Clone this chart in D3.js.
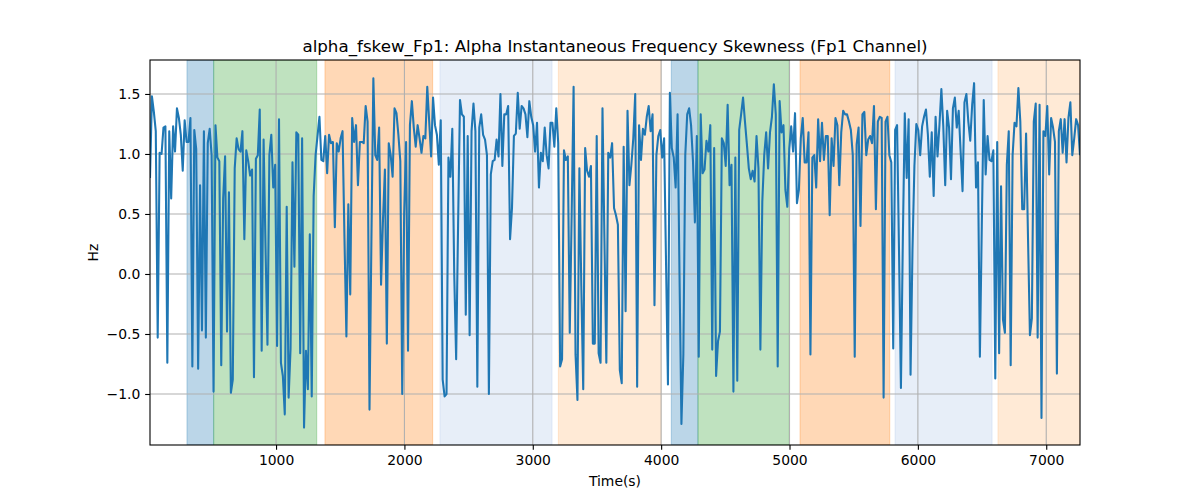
<!DOCTYPE html>
<html>
<head>
<meta charset="utf-8">
<script src="https://cdn.jsdelivr.net/npm/d3@7"></script>
<style>
  html, body { margin: 0; padding: 0; background: #ffffff; }
  svg { display: block; font-family: "DejaVu Sans", sans-serif; }
</style>
</head>
<body>
<svg id="chart" width="1200" height="500"></svg>
<script>
// ---- data ----
const titleText = "alpha_fskew_Fp1: Alpha Instantaneous Frequency Skewness (Fp1 Channel)";
const xLabel = "Time(s)";
const yLabel = "Hz";
const sampleStart = 18;   // time of first sample (s)
const sampleStep = 15;    // seconds between samples
const xTicks = [1000, 2000, 3000, 4000, 5000, 6000, 7000];
const yTicks = [-1.0, -0.5, 0.0, 0.5, 1.0, 1.5];
const yDomain = [-1.425, 1.783];

const values = [
  // 0 - 1000 s
  0.80, 1.48, 1.35, 1.19, -0.53, 1.01, 1.00, 1.22, 1.23, -0.74, 1.19, 0.63, 1.23, 1.02, 1.38, 1.30, 1.16, 0.86, 1.28, 1.10,
  1.10, 1.30, -0.77, 1.20, 1.04, -0.79, 0.74, -0.47, 1.19, -0.53, 1.09, 1.21, 0.99, -0.98, 1.24, 0.97, 0.94, -0.76, 0.63, 0.98,
  -0.48, 0.68, -0.99, -0.88, 0.88, 1.13, 1.04, 1.02, 1.19, 0.29, 1.03, 0.94, 0.82, 0.87, -0.86, 0.96, 0.99, 1.37, -0.64,
  // ~ 900 - 1800 s
  1.12, 0.22, -0.59, 0.99, 1.16, 0.72, 0.91, -0.60, 1.29, -0.74, -0.85, -1.17, 0.56, -1.03, -0.62, 0.93, 0.06, 1.18, 1.16, -0.66,
  1.13, -1.28, -0.64, -0.96, 0.33, -1.02, 0.65, 0.99, 1.15, 1.31, 0.95, 0.94, 1.15, 0.84, 1.16, 1.09, 1.10, 0.39, 1.09, 1.02,
  1.13, 1.19, 0.30, -0.52, 0.58, -0.17, 1.30, 1.10, 1.24, 0.74, 1.10, 1.10, 1.09, 1.40, 1.27, -1.13, 0.30, 1.63, 0.99, 0.95, 1.22,
  // ~ 1800 - 2700 s
  -0.09, 0.45, 0.87, -0.58, 1.09, 0.99, 0.81, 1.38, 1.34, 1.16, 0.94, -1.00, 0.50, 1.10, -0.64, 1.24, 1.44, 1.22, 1.06, 1.24,
  1.13, 1.01, 1.15, 1.13, 1.56, 1.27, 0.98, 1.47, 1.24, 1.16, 0.91, 1.28, -0.88, -1.02, -1.00, 0.97, 0.81, 1.21, 0.00, -0.71,
  0.40, 1.45, 1.33, 1.31, -0.34, 1.15, -0.51, 1.19, 1.42, 1.19, -0.94, 1.22, 1.33, 1.16, 1.12, 0.99, -1.00, 0.83, 0.94,
  // ~ 2700 - 3600 s
  0.95, 1.12, 0.98, 1.50, 0.90, 1.33, 1.33, 1.40, 0.29, 0.55, 1.15, 1.17, 1.51, 1.21, 1.40, 1.38, 1.33, 1.14, 1.44, 1.31,
  1.24, 1.02, 1.26, 0.72, 1.01, 0.94, 1.22, 0.99, 0.88, 1.26, 1.26, 1.06, 1.38, 1.09, -0.77, -0.71, 1.03, 0.95, 0.98, -0.49,
  0.50, 1.56, -0.67, -1.05, 0.88, -0.10, -0.96, 1.05, 0.86, 0.81, 0.90, -0.58, -0.58, 1.15, -0.66, -0.74, 1.38, 0.30, -0.74, 1.01,
  // ~ 3600 - 4500 s
  0.97, 1.09, 0.55, 0.49, 0.41, -0.80, -0.91, 1.06, -0.31, 1.36, 0.74, 0.91, 1.13, 1.50, -0.94, 1.24, 0.95, 1.21, 1.16, 1.31,
  1.40, 1.19, 1.33, -0.26, 0.99, 1.15, 1.20, 0.97, 1.13, 0.10, -0.92, 1.51, 1.05, 0.97, 0.72, 1.33, 0.00, -1.25, -0.67, 0.99,
  1.33, 1.38, 1.24, 0.94, 0.43, 1.15, -0.69, 1.33, 0.84, 0.87, 1.11, 1.02, 1.24, -0.63, 1.05, -0.85, -0.56, -0.48, 1.13, 1.09,
  // ~ 4500 - 5400 s
  0.90, 1.41, 0.74, 0.91, -0.98, 0.97, -0.89, 1.20, 1.33, 1.47, 1.27, 1.08, 0.88, 0.79, 0.86, 0.77, 1.15, 0.88, -0.63, 0.60,
  0.99, 1.18, 0.88, 1.18, 1.31, 1.58, 1.33, -0.77, 1.44, 1.18, 1.24, 0.70, 0.56, 1.04, 1.23, 1.02, 1.34, 0.59, 0.70, 1.13,
  1.30, 0.93, 0.93, 1.18, -0.67, 0.97, 0.99, 0.72, 1.29, 0.94, 1.26, 0.95, 1.15, 1.15, 0.49, 1.13, 0.90, 1.30, 1.24, 0.74,
  // ~ 5400 - 6300 s
  1.18, 1.36, 1.33, 1.33, 1.27, 1.20, 0.99, -0.69, 1.08, 1.22, 0.40, 1.33, 1.35, 0.99, 1.12, 1.15, 1.09, 1.40, 0.54, 1.27,
  1.31, 1.30, -1.03, 1.27, 1.31, 0.99, 0.93, -0.62, 1.20, 1.24, 0.20, -0.95, 0.30, 1.34, 0.80, 1.29, -0.84, 0.20, 0.90, 1.25,
  1.20, 0.99, 1.23, 1.31, 1.37, 1.16, 0.81, 1.18, 0.65, 1.31, 0.98, 1.24, 1.54, 1.23, 0.74, 1.36, 1.22, 0.79, 1.38, 1.47,
  // ~ 6300 - 7263 s
  1.22, 1.36, 1.02, 0.69, 1.43, 1.50, 1.27, 1.11, 1.41, 1.59, 0.72, 0.93, -0.69, 0.40, 1.45, 0.83, 1.15, 0.95, 0.94, 1.03,
  -0.87, 1.10, -0.66, 0.73, -0.38, -0.49, 0.91, 1.19, -0.76, 0.99, 1.26, 1.23, 1.55, 1.27, 0.54, 0.54, 1.17, 0.30, -0.51, -0.37,
  1.27, 1.42, -0.53, 1.41, -1.20, 1.19, 1.15, 1.40, 0.83, 1.30, 1.22, 1.10, -0.83, 1.19, 1.29, 1.01, 1.29, 0.93, 1.30, 1.43,
  0.99, 1.13, 1.29, 1.24, 0.99
];

// shaded intervals (seconds)
const bandStarts = [306, 514, 1381, 2277, 3199, 4079, 4287, 5082, 5822, 6624];
const bandEnds   = [514, 1317, 2220, 3150, 3999, 4287, 4998, 5781, 6578, 7263];
const bandColors = ["#1f77b4", "#2ca02c", "#ff7f0e", "#aec7e8", "#ffbb78",
                    "#1f77b4", "#2ca02c", "#ff7f0e", "#aec7e8", "#ffbb78"];

// ---- layout ----
const margin = { left: 150, right: 120, top: 60, bottom: 55 };
const W = 1200, H = 500;
const plotW = W - margin.left - margin.right;  // 930
const plotH = H - margin.top - margin.bottom;  // 385

const series = values.map((v, i) => ({ t: sampleStart + i * sampleStep, v: v }));
const xMin = series[0].t, xMax = series[series.length - 1].t;

const x = d3.scaleLinear().domain([xMin, xMax]).range([margin.left, margin.left + plotW]);
const y = d3.scaleLinear().domain(yDomain).range([margin.top + plotH, margin.top]);

const svg = d3.select("#chart");
svg.append("rect").attr("width", W).attr("height", H).attr("fill", "#fff");

const clipId = "plotclip";
svg.append("defs").append("clipPath").attr("id", clipId)
  .append("rect").attr("x", margin.left).attr("y", margin.top).attr("width", plotW).attr("height", plotH);

// bands
const bands = bandStarts.map((s, i) => ({ s: s, e: bandEnds[i], c: bandColors[i] }));
svg.append("g").attr("clip-path", `url(#${clipId})`)
  .selectAll("rect").data(bands).join("rect")
  .attr("x", d => x(d.s))
  .attr("width", d => x(d.e) - x(d.s))
  .attr("y", margin.top)
  .attr("height", plotH)
  .attr("fill", d => d.c)
  .attr("fill-opacity", 0.3)
  .attr("stroke", d => d.c)
  .attr("stroke-opacity", 0.3)
  .attr("stroke-width", 1);

// grid
const grid = svg.append("g");
grid.selectAll("line.gx").data(xTicks).join("line")
  .attr("x1", d => x(d)).attr("x2", d => x(d))
  .attr("y1", margin.top).attr("y2", margin.top + plotH)
  .attr("stroke", "#b0b0b0").attr("stroke-width", 1.1);
grid.selectAll("line.gy").data(yTicks).join("line")
  .attr("y1", d => y(d)).attr("y2", d => y(d))
  .attr("x1", margin.left).attr("x2", margin.left + plotW)
  .attr("stroke", "#b0b0b0").attr("stroke-width", 1.1);

// line
const line = d3.line().x(d => x(d.t)).y(d => y(d.v));
svg.append("path").datum(series)
  .attr("clip-path", `url(#${clipId})`)
  .attr("d", line)
  .attr("fill", "none")
  .attr("stroke", "#1f77b4")
  .attr("stroke-width", 2.08)
  .attr("stroke-linejoin", "round");

// axes
const fmtY = d => d3.format(".1f")(d).replace("-", "\u2212");
const xAxis = d3.axisBottom(x).tickValues(xTicks).tickFormat(d3.format("d")).tickSize(4.86).tickPadding(4.86);
const yAxis = d3.axisLeft(y).tickValues(yTicks).tickFormat(fmtY).tickSize(4.86).tickPadding(4.86);

const gx = svg.append("g").attr("transform", `translate(0,${margin.top + plotH})`).call(xAxis);
const gy = svg.append("g").attr("transform", `translate(${margin.left},0)`).call(yAxis);
[gx, gy].forEach(g => {
  g.select(".domain").remove();
  g.selectAll(".tick line").attr("stroke", "#000").attr("stroke-width", 1.1);
  g.selectAll(".tick text").attr("fill", "#000").style("font-size", "13.9px")
    .style("font-family", "'DejaVu Sans', sans-serif");
});

// spines
svg.append("rect")
  .attr("x", margin.left).attr("y", margin.top)
  .attr("width", plotW).attr("height", plotH)
  .attr("fill", "none").attr("stroke", "#000").attr("stroke-width", 1.1);

// title & labels
svg.append("text")
  .attr("x", margin.left + plotW / 2).attr("y", 51.5)
  .attr("text-anchor", "middle")
  .style("font-size", "16.7px").attr("fill", "#000")
  .text(titleText);

svg.append("text")
  .attr("x", margin.left + plotW / 2).attr("y", 486)
  .attr("text-anchor", "middle")
  .style("font-size", "13.9px").attr("fill", "#000")
  .text(xLabel);

svg.append("text")
  .attr("transform", `translate(98,${margin.top + plotH / 2}) rotate(-90)`)
  .attr("text-anchor", "middle")
  .style("font-size", "13.9px").attr("fill", "#000")
  .text(yLabel);
</script>
</body>
</html>
